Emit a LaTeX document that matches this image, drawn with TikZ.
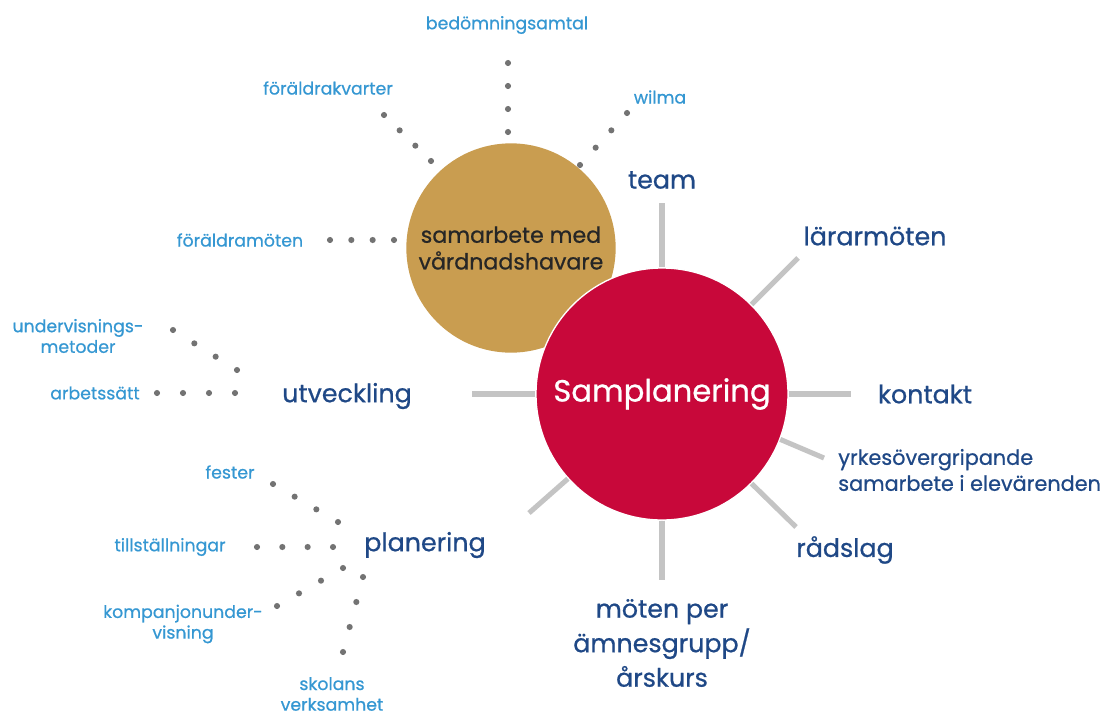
\documentclass[tikz,border=0pt]{standalone}
\usepackage{fontspec}
\setmainfont{Poppins}[FakeBold=0.7]
\usetikzlibrary{calc}
\definecolor{navy}{HTML}{1F4886}
\definecolor{lblue}{HTML}{3597D2}
\definecolor{redc}{HTML}{C8083A}
\definecolor{goldc}{HTML}{C99D50}
\definecolor{spokec}{HTML}{C4C4C4}
\definecolor{dotc}{HTML}{737373}
\tikzset{
 big/.style={text=navy, font=\fontsize{19}{25.9}\selectfont, inner sep=0, align=center},
 mid/.style={text=navy, font=\fontsize{15.6}{19.5}\selectfont, inner sep=0, align=left},
 small/.style={text=lblue, font=\fontsize{13}{15.5}\selectfont, inner sep=0, align=center},
 spoke/.style={draw=spokec, line width=3.8pt},
}
\newcommand\dotrow[2]{\foreach \t in {0,0.3333,0.6667,1}{\fill[dotc] ($(#1)!\t!(#2)$) circle (2.3pt);}}
\begin{document}
\begin{tikzpicture}[x=0.75pt,y=-0.75pt]
\useasboundingbox (0,0) rectangle (1104,715);
% circles
\node[circle, fill=goldc, minimum size=157pt, inner sep=0, text=black!85, font=\fontsize{16.6}{20}\selectfont, align=center] (gold) at (511,248) {samarbete med\\vårdnadshavare};
\node[circle, fill=redc, draw=white, line width=1pt, minimum size=189pt, inner sep=0, text=white, font=\fontsize{23}{28}\selectfont] (red) at (662,394) {Samplanering};
% spoke ends
\coordinate (sTeam) at (662,203);
\coordinate (sLar) at (798,258);
\coordinate (sKon) at (851,394);
\coordinate (sYrk) at (824,458);
\coordinate (sRad) at (796,527);
\coordinate (sMot) at (662,580);
\coordinate (sLL) at (529,513);
\coordinate (sUtv) at (472,394);
\draw[spoke] (red.90) -- (sTeam);
\draw[spoke] (red.45) -- (sLar);
\draw[spoke] (red.0) -- (sKon);
\draw[spoke] (red.-21.5) -- (sYrk);
\draw[spoke] (red.-45) -- (sRad);
\draw[spoke] (red.-90) -- (sMot);
\draw[spoke] (red.222) -- (sLL);
\draw[spoke] (red.180) -- (sUtv);
% big labels
\node[big] (team) at (662,180) {team};
\node[big] (lar) at (875,236) {lärarmöten};
\node[big] (kon) at (925,394) {kontakt};
\node[mid, anchor=west] (yrk) at (838,470) {yrkesövergripande\\samarbete i elevärenden};
\node[big] (rad) at (845,550) {rådslag};
\node[big] (mot) at (662,643) {möten per\\ämnesgrupp/\\årskurs};
\node[big] (utv) at (347,396) {utveckling};
\node[big] (pla) at (425,545) {planering};
% small labels
\node[small] (bed) at (507,25) {bedömningsamtal};
\node[small] (fkv) at (328,88) {föräldrakvarter};
\node[small] (wil) at (660,97) {wilma};
\node[small] (fm) at (240,240) {föräldramöten};
\node[small] (und) at (78,336) {undervisnings-\\metoder};
\node[small] (arb) at (95,393) {arbetssätt};
\node[small] (fes) at (230,472) {fester};
\node[small] (til) at (170,547) {tillställningar};
\node[small] (kom) at (183,624) {kompanjonunder-\\visning};
\node[small] (sko) at (332,694) {skolans\\verksamhet};
% dot rows
\coordinate (d1a) at (508,63);  \coordinate (d1b) at (508,132);
\coordinate (d2a) at (384,115); \coordinate (d2b) at (431,161);
\coordinate (d3a) at (627,113); \coordinate (d3b) at (580,165);
\coordinate (d4a) at (330,240); \coordinate (d4b) at (394,240);
\coordinate (d5a) at (173,330); \coordinate (d5b) at (237,370);
\coordinate (d6a) at (157,393); \coordinate (d6b) at (235,393);
\coordinate (d7a) at (273,484); \coordinate (d7b) at (338,522);
\coordinate (d8a) at (257,547); \coordinate (d8b) at (333,547);
\coordinate (d9a) at (277,606); \coordinate (d9b) at (343,568);
\coordinate (d10a) at (363,577); \coordinate (d10b) at (343,652);
\dotrow{d1a}{d1b}
\dotrow{d2a}{d2b}
\dotrow{d3a}{d3b}
\dotrow{d4a}{d4b}
\dotrow{d5a}{d5b}
\dotrow{d6a}{d6b}
\dotrow{d7a}{d7b}
\dotrow{d8a}{d8b}
\dotrow{d9a}{d9b}
\dotrow{d10a}{d10b}
\end{tikzpicture}
\end{document}
